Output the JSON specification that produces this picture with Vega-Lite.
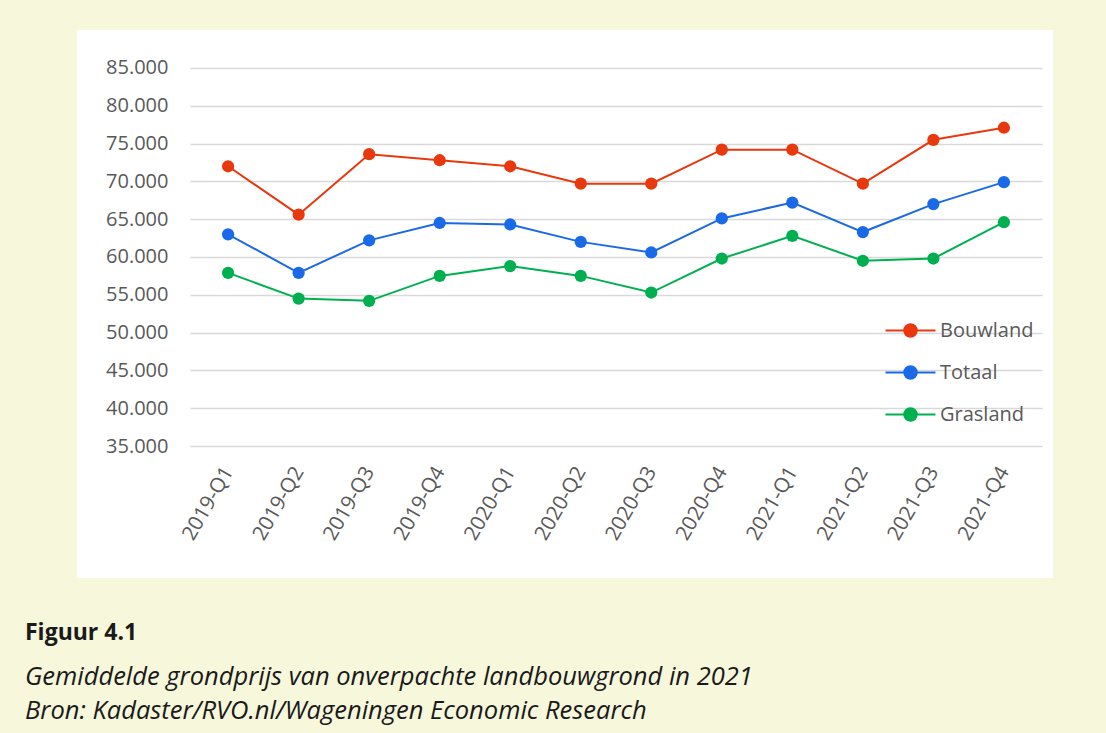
{
  "$schema": "https://vega.github.io/schema/vega-lite/v6.json",
  "width": 976,
  "height": 548,
  "autosize": {"type": "none"},
  "padding": {"left": 77, "top": 30, "right": 53, "bottom": 155},
  "background": "#F7F7DC",
  "view": {"fill": "white", "stroke": null},
  "title": {
    "text": "Figuur 4.1",
    "subtitle": ["Gemiddelde grondprijs van onverpachte landbouwgrond in 2021", "Bron: Kadaster/RVO.nl/Wageningen Economic Research"],
    "orient": "bottom",
    "anchor": "start",
    "frame": "group",
    "dx": -52,
    "offset": 44,
    "font": "Open Sans",
    "fontSize": 23,
    "fontWeight": "bold",
    "color": "#1a1a1a",
    "subtitleFont": "Open Sans",
    "subtitleFontSize": 25.5,
    "subtitleFontStyle": "italic",
    "subtitleColor": "#1a1a1a",
    "subtitlePadding": 20,
    "subtitleLineHeight": 34
  },
  "data": {
    "values": [
      {"q": "2019-Q1", "s": "Bouwland", "v": 72000},
      {"q": "2019-Q2", "s": "Bouwland", "v": 65600},
      {"q": "2019-Q3", "s": "Bouwland", "v": 73600},
      {"q": "2019-Q4", "s": "Bouwland", "v": 72800},
      {"q": "2020-Q1", "s": "Bouwland", "v": 72000},
      {"q": "2020-Q2", "s": "Bouwland", "v": 69700},
      {"q": "2020-Q3", "s": "Bouwland", "v": 69700},
      {"q": "2020-Q4", "s": "Bouwland", "v": 74200},
      {"q": "2021-Q1", "s": "Bouwland", "v": 74200},
      {"q": "2021-Q2", "s": "Bouwland", "v": 69700},
      {"q": "2021-Q3", "s": "Bouwland", "v": 75500},
      {"q": "2021-Q4", "s": "Bouwland", "v": 77100},
      {"q": "2019-Q1", "s": "Totaal", "v": 63000},
      {"q": "2019-Q2", "s": "Totaal", "v": 57900},
      {"q": "2019-Q3", "s": "Totaal", "v": 62200},
      {"q": "2019-Q4", "s": "Totaal", "v": 64500},
      {"q": "2020-Q1", "s": "Totaal", "v": 64300},
      {"q": "2020-Q2", "s": "Totaal", "v": 62000},
      {"q": "2020-Q3", "s": "Totaal", "v": 60600},
      {"q": "2020-Q4", "s": "Totaal", "v": 65100},
      {"q": "2021-Q1", "s": "Totaal", "v": 67200},
      {"q": "2021-Q2", "s": "Totaal", "v": 63300},
      {"q": "2021-Q3", "s": "Totaal", "v": 67000},
      {"q": "2021-Q4", "s": "Totaal", "v": 69900},
      {"q": "2019-Q1", "s": "Grasland", "v": 57900},
      {"q": "2019-Q2", "s": "Grasland", "v": 54500},
      {"q": "2019-Q3", "s": "Grasland", "v": 54200},
      {"q": "2019-Q4", "s": "Grasland", "v": 57500},
      {"q": "2020-Q1", "s": "Grasland", "v": 58800},
      {"q": "2020-Q2", "s": "Grasland", "v": 57500},
      {"q": "2020-Q3", "s": "Grasland", "v": 55300},
      {"q": "2020-Q4", "s": "Grasland", "v": 59800},
      {"q": "2021-Q1", "s": "Grasland", "v": 62800},
      {"q": "2021-Q2", "s": "Grasland", "v": 59500},
      {"q": "2021-Q3", "s": "Grasland", "v": 59800},
      {"q": "2021-Q4", "s": "Grasland", "v": 64600}
    ]
  },
  "encoding": {
    "x": {
      "field": "q",
      "type": "ordinal",
      "sort": null,
      "scale": {"type": "point", "range": [113, 965], "padding": 0.54},
      "axis": {
        "orient": "bottom",
        "offset": -132,
        "labelAngle": -60,
        "labelPadding": 22,
        "labelFontSize": 20.5,
        "domain": false,
        "ticks": false,
        "grid": false,
        "title": null
      }
    },
    "y": {
      "field": "v",
      "type": "quantitative",
      "scale": {"domain": [17540, 90026], "nice": false, "zero": false},
      "axis": {
        "values": [35000, 40000, 45000, 50000, 55000, 60000, 65000, 70000, 75000, 80000, 85000],
        "labelExpr": "replace(format(datum.value, ',d'), ',', '.')",
        "offset": -113,
        "labelPadding": 22,
        "labelFontSize": 20,
        "domain": false,
        "ticks": false,
        "grid": true,
        "title": null
      }
    },
    "color": {
      "field": "s",
      "type": "nominal",
      "scale": {"domain": ["Bouwland", "Totaal", "Grasland"], "range": ["#E8380D", "#1A6AE8", "#00B050"]},
      "legend": {
        "orient": "none",
        "legendX": 820,
        "legendY": 287,
        "title": null,
        "symbolType": "M-2,0H2M-0.5,0A0.5,0.5,0,1,0,0.5,0A0.5,0.5,0,1,0,-0.5,0Z",
        "symbolSize": 625,
        "symbolStrokeWidth": 2,
        "labelFont": "Open Sans",
        "labelFontSize": 20,
        "labelColor": "#595959",
        "labelOffset": 16,
        "rowPadding": 18,
        "encode": {
          "symbols": {
            "update": {
              "stroke": {"scale": "color", "field": "value"},
              "fill": {"scale": "color", "field": "value"},
              "strokeWidth": {"value": 2},
              "opacity": {"value": 1}
            }
          }
        }
      }
    }
  },
  "layer": [
    {"mark": {"type": "line", "strokeWidth": 2}},
    {"mark": {"type": "point", "filled": true, "size": 150, "opacity": 1}}
  ],
  "config": {
    "axis": {
      "labelFont": "Open Sans",
      "labelColor": "#595959",
      "gridColor": "#D9D9D9",
      "gridWidth": 1.5
    }
  }
}
